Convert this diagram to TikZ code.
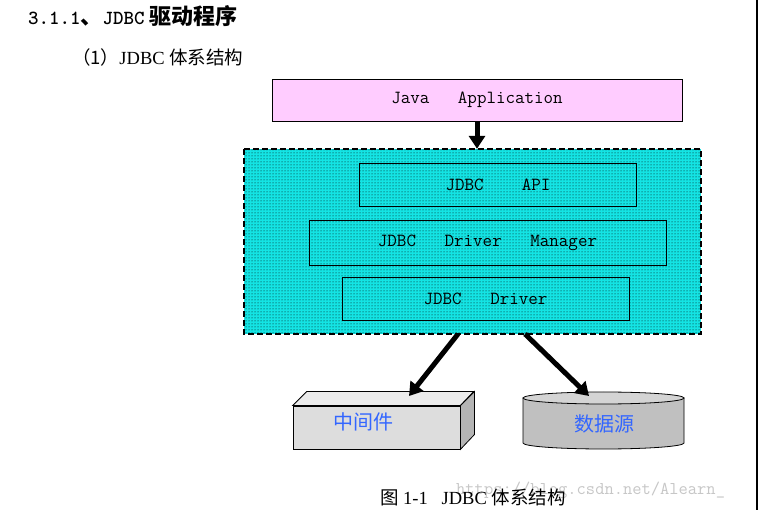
\documentclass[tikz,border=0pt]{standalone}
\usepackage{fontspec}
\newfontfamily\cjk{Noto Sans CJK SC}
\newfontfamily\serifl{Liberation Serif}
\usetikzlibrary{arrows.meta,patterns}
\definecolor{appfill}{HTML}{FFCCFF}
\definecolor{layercyan}{HTML}{14E4E4}
\definecolor{labelblue}{HTML}{3366FF}
\definecolor{frontgray}{HTML}{DDDDDD}
\definecolor{topgray}{HTML}{EBEBEB}
\definecolor{sidegray}{HTML}{B4B4B4}
\definecolor{cylbody}{HTML}{C0C0C0}
\definecolor{cyltop}{HTML}{D4D4D4}
\tikzset{
  layerbox/.style={draw=black, line width=0.9pt, inner sep=0pt, font=\ttfamily\fontsize{18.5}{20}\selectfont},
  bigarrow/.style={line width=5pt, -{Triangle[width=16pt,length=13pt]}},
  cjklabel/.style={text=labelblue, font=\cjk\fontsize{20}{22}\selectfont}
}
\begin{document}
\begin{tikzpicture}[x=1pt,y=-1pt]
\useasboundingbox (0,0) rectangle (758,510);
\fill[white] (0,0) rectangle (758,510);

% headings
\node[anchor=west, inner sep=0pt] (title) at (28,16)
  {\fontsize{20}{22}\selectfont\ttfamily\bfseries 3.1.1\fontsize{22}{24}\selectfont\cjk 、\fontsize{20}{22}\selectfont\ttfamily\bfseries JDBC\fontsize{22}{24}\selectfont\cjk\bfseries\ 驱动程序};
\node[anchor=west, inner sep=0pt, font=\fontsize{18.5}{20}\selectfont] (sub) at (72,57)
  {\cjk （1）\serifl JDBC \cjk 体系结构};

% Java Application
\node[layerbox, fill=appfill, minimum width=410pt, minimum height=42pt] (app) at (477,100)
  {Java\ \ \ Application};

% outer JDBC layer
\coordinate (olt) at (244,149);
\coordinate (orb) at (701,334);
\fill[layercyan] (olt) rectangle (orb);
\fill[pattern=dots, pattern color=black] (olt) rectangle (orb);
\draw[line width=1.2pt, dash pattern=on 6pt off 3pt] (olt) rectangle (orb);
\node[inner sep=0pt, minimum width=457pt, minimum height=185pt] (layer) at (472.5,241.5) {};

\node[layerbox, minimum width=277pt, minimum height=43pt] (api) at (498,184.5)
  {JDBC\ \ \ \ API};
\node[layerbox, minimum width=357pt, minimum height=45pt] (mgr) at (487.5,242.5)
  {JDBC\ \ \ Driver\ \ \ Manager};
\node[layerbox, minimum width=287pt, minimum height=43pt] (drv) at (485.5,298.5)
  {JDBC\ \ \ Driver};

% middleware cuboid
\node[draw=black, line width=0.8pt, fill=frontgray, minimum width=167pt, minimum height=43pt, inner sep=0pt] (mid) at (376.5,427.5) {};
\filldraw[line width=0.8pt, fill=topgray] (mid.north west) -- ++(14,-14) -- ++(167,0) -- (mid.north east) -- cycle;
\filldraw[line width=0.8pt, fill=sidegray] (mid.north east) -- ++(14,-14) -- ++(0,43) -- (mid.south east) -- cycle;
\node[cjklabel, inner sep=0pt] (midlabel) at (363,422) {中间件};

% data source cylinder
\coordinate (cl) at (523,398);
\coordinate (cr) at (684,398);
\filldraw[line width=0.8pt, fill=cylbody] (cl) -- (523,443) arc[start angle=180, end angle=360, x radius=80.5, y radius=-6] -- (cr) -- cycle;
\filldraw[line width=0.8pt, fill=cyltop] (603.5,398) ellipse[x radius=80.5, y radius=6];
\node[inner sep=0pt, cjklabel] (ds) at (604,424) {数据源};

% arrows
\draw[bigarrow] (app.south) -- (app.south |- layer.north);
\draw[bigarrow] (458,334) -- (409,396);
\draw[bigarrow] (525,334) -- (589,396);

% watermark
\node[anchor=west, inner sep=0pt, text=black!22, font=\ttfamily\fontsize{18}{20}\selectfont] (wm) at (456,490) {https://blog.csdn.net/Alearn\_};

% caption
\node[inner sep=0pt, font=\fontsize{18.5}{20}\selectfont] (cap) at (473,497)
  {\cjk 图\ \serifl 1-1\ \ \ JDBC \cjk 体系结构};

% right edge rule
\draw[line width=1.3pt] (757,0) -- (757,510);
\end{tikzpicture}
\end{document}
